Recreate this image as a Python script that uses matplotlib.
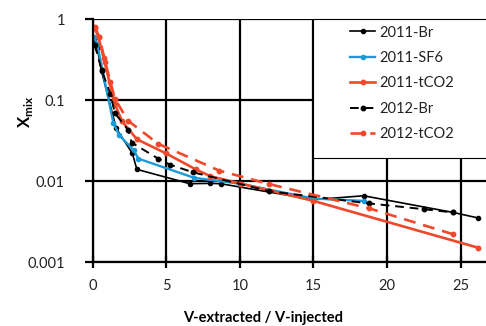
import matplotlib
matplotlib.use("Agg")
import matplotlib.pyplot as plt
from matplotlib.patches import Rectangle

plt.rcParams['font.family'] = ['Lato', 'DejaVu Sans']
plt.rcParams['mathtext.fontset'] = 'custom'
plt.rcParams['mathtext.rm'] = 'Lato'
plt.rcParams['mathtext.bf'] = 'Lato:bold'

# series
br11_x = [0.1, 0.3, 0.6, 1.6, 2.7, 3.0, 6.6, 8.0, 8.7, 15.0, 18.4, 24.5, 26.2]
br11_y = [0.55, 0.45, 0.23, 0.045, 0.022, 0.014, 0.0093, 0.0094, 0.0093,
          0.0059, 0.0066, 0.0041, 0.0035]

sf11_x = [0.1, 0.3, 1.4, 1.8, 2.8, 3.1, 6.9, 10.0, 15.0, 18.4]
sf11_y = [0.6, 0.5, 0.053, 0.037, 0.024, 0.019, 0.011, 0.0093, 0.0061, 0.0057]

co11_x = [0.15, 0.4, 0.75, 1.5, 2.0, 3.0, 5.0, 7.0, 8.0, 10.1, 15.0, 26.2]
co11_y = [0.78, 0.6, 0.33, 0.09, 0.055, 0.033, 0.022, 0.014, 0.0115, 0.0093,
          0.0057, 0.0015]

br12_x = [0.15, 0.6, 1.2, 1.5, 2.4, 2.65, 4.45, 5.25, 6.8, 12.0, 18.8, 22.5, 24.5]
br12_y = [0.48, 0.24, 0.12, 0.07, 0.043, 0.03, 0.019, 0.016, 0.0129, 0.0075,
          0.0053, 0.0045, 0.0041]

co12_x = [0.15, 0.45, 0.85, 1.2, 1.5, 2.4, 4.45, 8.6, 12.0, 18.8, 24.5]
co12_y = [0.8, 0.61, 0.3, 0.17, 0.105, 0.056, 0.029, 0.0135, 0.0092, 0.0046,
          0.0022]

blue = '#1b9ad8'
red = '#f0482a'

fig = plt.figure(figsize=(4.86, 3.26), dpi=100)
ax = fig.add_axes([0.1907, 0.1963, 0.8093, 0.7439])

ax.plot(br11_x, br11_y, '-', color='black', lw=1.2, marker='o', ms=3,
        label='2011-Br')
ax.plot(sf11_x, sf11_y, '-', color=blue, lw=1.7, marker='o', ms=3,
        label='2011-SF6')
ax.plot(co11_x, co11_y, '-', color=red, lw=1.9, marker='o', ms=3.2,
        label='2011-tCO2')
ax.plot(br12_x, br12_y, '--', color='black', lw=1.4, marker='o', ms=3.2,
        dashes=(4.5, 3), label='2012-Br')
ax.plot(co12_x, co12_y, '--', color=red, lw=1.9, marker='o', ms=3.2,
        dashes=(4.5, 3), label='2012-tCO2')

ax.set_yscale('log')
ax.set_xlim(0, 26.72)
ax.set_ylim(0.001, 1)
ax.set_xticks([0, 5, 10, 15, 20, 25])
ax.set_yticks([0.001, 0.01, 0.1, 1])
ax.set_yticklabels(['0.001', '0.01', '0.1', '1'])
ax.minorticks_off()
ax.grid(True, color='black', lw=1.6)
ax.set_axisbelow(True)
for s in ['top', 'right']:
    ax.spines[s].set_visible(False)
for s in ['left', 'bottom']:
    ax.spines[s].set_linewidth(1.6)
ax.tick_params(axis='x', direction='inout', length=9, width=1.6,
               labelsize=10.5, pad=8, colors='black')
ax.tick_params(axis='y', direction='out', length=6, width=1.6,
               labelsize=10.5, pad=14)
for lab in ax.get_xticklabels() + ax.get_yticklabels():
    lab.set_color('#222222')

ax.set_xlabel('V-extracted / V-injected', fontsize=10.5, fontweight='bold')
ax.xaxis.set_label_coords(0.434, -0.23)
ax.xaxis.label.set_va('center')
ax.set_ylabel(r'$\mathbf{X}_{\mathbf{mix}}$', fontsize=12)
ax.yaxis.set_label_coords(-0.172, 0.62)
ax.yaxis.label.set_va('center')

# legend frame cut off at the right edge, like the reference
ax.add_patch(Rectangle((0.561, 0.428), 0.6, 0.572, transform=ax.transAxes,
                       facecolor='white', edgecolor='black', lw=0.8,
                       clip_on=False, zorder=4))
leg = ax.legend(loc='upper left', bbox_to_anchor=(0.654, 0.975),
                frameon=False, fontsize=10.5, borderpad=0, borderaxespad=0,
                handlelength=1.75, handletextpad=0.25, labelspacing=0.78)
leg.set_zorder(5)
for t in leg.get_texts():
    t.set_color('#222222')

fig.savefig('out.png', dpi=100)
